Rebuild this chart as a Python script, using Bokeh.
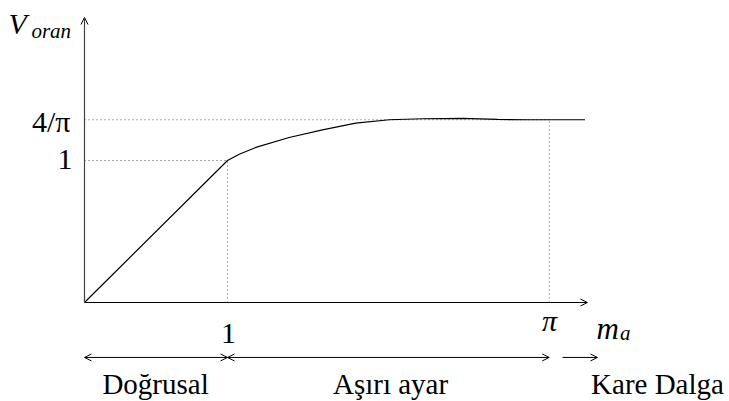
from bokeh.plotting import figure
from bokeh.models import Arrow, OpenHead, Range1d
from bokeh.core.properties import value
from bokeh.embed import file_html
from bokeh.resources import INLINE

# curve data (m_a, V_oran)
ma = [0.0, 1.0, 1.082, 1.198, 1.431, 1.664, 1.897, 2.131, 2.364, 2.643, 2.89, 3.10, 3.25, 3.50]
v_oran = [0.0, 1.0, 1.044, 1.092, 1.162, 1.216, 1.263, 1.287, 1.294, 1.296, 1.289, 1.287, 1.287, 1.287]

# reference levels / positions
x_one = 1.0
x_pi = 3.25
y_one = 1.0
y_four_pi = 1.287
x_axis_end = 3.517
y_axis_end = 2.007

y_ticks = ["4/π", "1"]
x_ticks = ["1", "π"]
regions = ["Doğrusal", "Aşırı ayar", "Kare Dalga"]

p = figure(width=729, height=401,
           x_range=Range1d(-0.5874, 4.5105), y_range=Range1d(-0.6972, 2.1268),
           x_axis_type=None, y_axis_type=None,
           output_backend="svg", toolbar_location=None, min_border=0)
p.grid.visible = False
p.outline_line_color = None
p.background_fill_color = "white"

dot = dict(line_color="#555555", line_width=1, line_dash="1 3")
# dotted guides
p.line([0, x_one], [y_one, y_one], **dot)
p.line([0, x_pi], [y_four_pi, y_four_pi], **dot)
p.line([x_one, x_one], [0, y_one], **dot)
p.line([x_pi, x_pi], [0, y_four_pi], **dot)

# curve
p.line(ma, v_oran, line_color="black", line_width=1.2)

def head():
    return OpenHead(size=7, line_width=1, line_color="black")

# axes
p.add_layout(Arrow(end=head(), x_start=0, y_start=0, x_end=x_axis_end, y_end=0,
                   line_width=1.2, line_color="black"))
p.add_layout(Arrow(end=head(), x_start=0, y_start=0, x_end=0, y_end=y_axis_end,
                   line_width=1.2, line_color="#444444"))

# region arrows
ya = -0.387
p.add_layout(Arrow(start=head(), end=head(), x_start=0, y_start=ya, x_end=x_one, y_end=ya,
                   line_width=1, line_color="black"))
p.add_layout(Arrow(start=head(), end=head(), x_start=x_one, y_start=ya, x_end=x_pi, y_end=ya,
                   line_width=1, line_color="black"))
p.add_layout(Arrow(end=head(), x_start=3.343, y_start=ya, x_end=3.587, y_end=ya,
                   line_width=1, line_color="black"))

font = value("Liberation Serif")

# y tick labels
p.text(x=[-0.098, -0.084], y=[1.275, 1.007], text=y_ticks, text_font=font,
       text_font_size="30px", text_align="right", text_baseline="middle", text_color="black")
# x tick labels
p.text(x=[1.007], y=[-0.218], text=[x_ticks[0]], text_font=font,
       text_font_size="30px", text_align="center", text_baseline="alphabetic", text_color="black")
p.text(x=[3.252], y=[-0.127], text=[x_ticks[1]], text_font=font, text_font_style="italic",
       text_font_size="30px", text_align="center", text_baseline="alphabetic", text_color="black")

# axis titles
p.text(x=[3.580], y=[-0.183], text=["m"], text_font=font, text_font_style="italic",
       text_font_size="31px", text_align="left", text_baseline="alphabetic", text_color="black")
p.text(x=[3.745], y=[-0.218], text=["a"], text_font=font, text_font_style="italic",
       text_font_size="21px", text_align="left", text_baseline="alphabetic", text_color="black")
p.text(x=[-0.531], y=[1.965], text=["V"], text_font=font, text_font_style="italic",
       text_font_size="30px", text_align="left", text_baseline="alphabetic", text_color="black")
p.text(x=[-0.371], y=[1.915], text=["oran"], text_font=font, text_font_style="italic",
       text_font_size="21px", text_align="left", text_baseline="alphabetic", text_color="black")

# region labels
p.text(x=[0.497, 2.14, 4.007], y=[-0.577] * 3, text=regions, text_font=font,
       text_font_size="29px", text_align="center", text_baseline="alphabetic", text_color="black")

open("out.html", "w").write(file_html(p, INLINE))
